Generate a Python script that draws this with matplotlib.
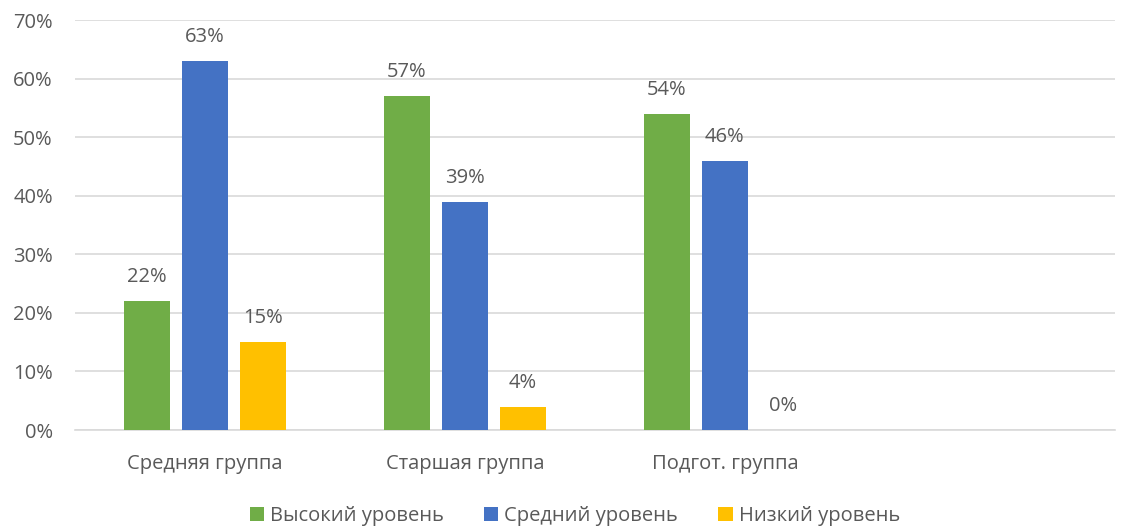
import matplotlib.pyplot as plt
import numpy as np

plt.rcParams['font.family'] = ['Open Sans', 'DejaVu Sans']

categories = ['Средняя группа', 'Старшая группа', 'Подгот. группа', '']
series_names = ['Высокий уровень', 'Средний уровень', 'Низкий уровень']
high = [22, 57, 54, None]
mid = [63, 39, 46, None]
low = [15, 4, 0, None]
colors = ['#70AD47', '#4472C4', '#FFC000']
yticks = [0, 10, 20, 30, 40, 50, 60, 70]

fig = plt.figure(figsize=(11.25, 5.27), dpi=100)
ax = fig.add_axes([0.0667, 0.184, 0.9243, 0.778])

x = np.arange(len(categories))
width = 0.177
step = 0.223
txt = '#595959'
for k, (vals, name, c) in enumerate(zip([high, mid, low], series_names, colors)):
    xs = [xi + (k - 1) * step for xi, v in zip(x, vals) if v is not None]
    vs = [v for v in vals if v is not None]
    ax.bar(xs, vs, width=width, color=c, label=name, zorder=3)
    for xi, v in zip(xs, vs):
        ax.text(xi, v + 2.4, f'{v}%', ha='center', va='bottom', fontsize=14.5, color=txt)

ax.set_xlim(-0.5, 3.5)
ax.set_ylim(0, 70)
ax.set_yticks(yticks)
ax.set_yticklabels([f'{t}%' for t in yticks])
ax.set_xticks(x)
ax.set_xticklabels(categories)
ax.grid(axis='y', color='#D9D9D9', linewidth=1.2, zorder=0)
for s in ['top', 'right', 'left']:
    ax.spines[s].set_visible(False)
ax.spines['bottom'].set_color('#D9D9D9')
ax.spines['bottom'].set_linewidth(1.2)
ax.tick_params(axis='both', length=0, labelsize=14.5, colors=txt)
ax.tick_params(axis='x', pad=17)
ax.tick_params(axis='y', pad=16)

leg = fig.legend(loc='lower center', bbox_to_anchor=(0.511, -0.032), ncol=3, frameon=False,
                 fontsize=14.5, handlelength=0.7, handleheight=0.7, handletextpad=0.3,
                 columnspacing=2.0)
for t in leg.get_texts():
    t.set_color(txt)

fig.savefig('out.png', dpi=100)
